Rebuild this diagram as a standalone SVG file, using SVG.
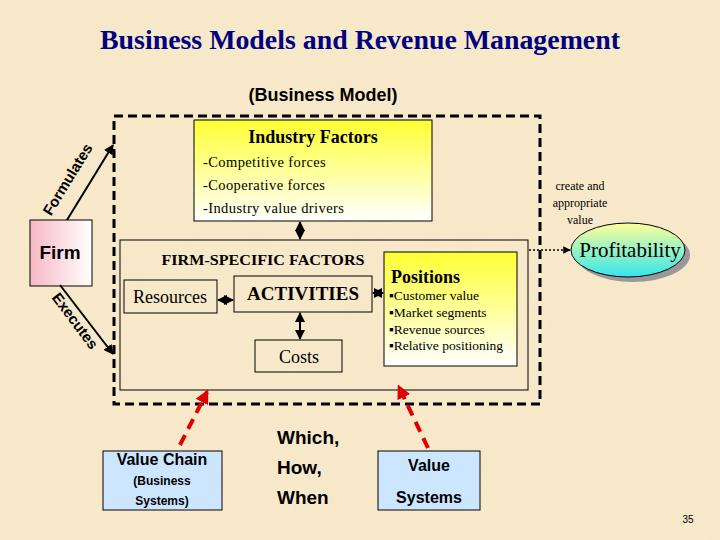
<svg xmlns="http://www.w3.org/2000/svg" width="720" height="540" viewBox="0 0 720 540">
<defs>
<style>
.t{font-family:"Liberation Serif","Times New Roman",serif;fill:#000}
.a{font-family:"Liberation Sans",Arial,sans-serif;font-weight:bold;fill:#000}
.box{stroke:#000;stroke-width:1}
.ln{stroke:#000;stroke-width:2;fill:none}
.red{stroke:#e00000;stroke-width:4;fill:none;stroke-dasharray:11 7}
</style>
<filter id="tex" x="0" y="0" width="100%" height="100%">
<feTurbulence type="fractalNoise" baseFrequency="0.04" numOctaves="3" seed="3"/>
<feColorMatrix values="0 0 0 0 0.85  0 0 0 0 0.72  0 0 0 0 0.5  0 0 0 0.55 -0.15"/>
</filter>
<linearGradient id="yel" x1="0" y1="0" x2="0" y2="1"><stop offset="0" stop-color="#ffff33"/><stop offset="1" stop-color="#ffffff"/></linearGradient>
<linearGradient id="pink" x1="0" y1="0" x2="1" y2="0"><stop offset="0" stop-color="#f7b8c4"/><stop offset="1" stop-color="#ffffff"/></linearGradient>
<linearGradient id="prof" x1="0" y1="0" x2="0" y2="1"><stop offset="0" stop-color="#ffff99"/><stop offset="1" stop-color="#33e6ee"/></linearGradient>
<marker id="ah" viewBox="0 0 10 10" refX="9" refY="5" markerWidth="5" markerHeight="5" orient="auto-start-reverse"><path d="M0,0 L10,5 L0,10 z" fill="#000"/></marker>
<marker id="ahr" viewBox="0 0 10 10" refX="8" refY="5" markerWidth="3.5" markerHeight="3.5" orient="auto"><path d="M0,0 L10,5 L0,10 z" fill="#e00000"/></marker>
</defs>
<rect width="720" height="540" fill="#f8e9cb"/>
<rect width="720" height="540" filter="url(#tex)" opacity="0.35"/>

<text x="360" y="49" text-anchor="middle" class="t" font-size="28" font-weight="bold" style="fill:#000080" textLength="520" lengthAdjust="spacingAndGlyphs">Business Models and Revenue Management</text>
<text x="323" y="101" text-anchor="middle" class="a" font-size="18">(Business Model)</text>

<g id="outer">
<rect x="114" y="116" width="426" height="288" fill="none" stroke="#000" stroke-width="3" stroke-dasharray="9 5"/>
</g>
<g id="inner">
<rect x="120" y="240" width="408" height="150" fill="none" class="box"/>
<text x="263" y="265" text-anchor="middle" class="t" font-size="15" font-weight="bold" textLength="203" lengthAdjust="spacingAndGlyphs">FIRM-SPECIFIC FACTORS</text>
</g>

<g id="industry">
<rect x="194" y="120" width="238" height="101" fill="url(#yel)" class="box"/>
<text x="313" y="143" text-anchor="middle" class="t" font-size="18" font-weight="bold">Industry Factors</text>
<text x="203" y="167" class="t" font-size="14.5" letter-spacing="0.4">-Competitive forces</text>
<text x="203" y="190" class="t" font-size="14.5" letter-spacing="0.4">-Cooperative forces</text>
<text x="203" y="213" class="t" font-size="14.5" letter-spacing="0.4">-Industry value drivers</text>
</g>

<g id="resources">
<rect x="124" y="280" width="93" height="33" fill="none" class="box"/>
<text x="170" y="303" text-anchor="middle" class="t" font-size="18">Resources</text>
</g>
<g id="activities">
<rect x="234" y="276" width="138" height="36" fill="none" class="box"/>
<text x="303" y="300" text-anchor="middle" class="t" font-size="19" font-weight="bold">ACTIVITIES</text>
</g>
<g id="costs">
<rect x="255" y="340" width="87" height="32" fill="none" class="box"/>
<text x="299" y="363" text-anchor="middle" class="t" font-size="18">Costs</text>
</g>
<g id="positions">
<rect x="384" y="252" width="133" height="114" fill="url(#yel)" class="box"/>
<text x="391" y="283" class="t" font-size="18" font-weight="bold">Positions</text>
<text x="389" y="300" class="t" font-size="13.5">▪Customer value</text>
<text x="389" y="317" class="t" font-size="13.5">▪Market segments</text>
<text x="389" y="334" class="t" font-size="13.5">▪Revenue sources</text>
<text x="389" y="350" class="t" font-size="13.5">▪Relative positioning</text>
</g>

<g id="firm">
<rect x="30" y="220" width="62" height="66" fill="url(#pink)" class="box"/>
<text x="60" y="259" text-anchor="middle" class="a" font-size="19">Firm</text>
</g>

<g id="profitability">
<ellipse cx="633" cy="255" rx="57" ry="27" fill="#999"/>
<ellipse cx="628" cy="250" rx="57" ry="27" fill="url(#prof)" class="box"/>
<text x="630" y="257" text-anchor="middle" class="t" font-size="21">Profitability</text>
</g>
<text x="580" y="190" text-anchor="middle" class="t" font-size="12">create and</text>
<text x="580" y="207" text-anchor="middle" class="t" font-size="12">appropriate</text>
<text x="580" y="224" text-anchor="middle" class="t" font-size="12">value</text>

<g id="valuechain">
<rect x="103" y="451" width="119" height="59" fill="#cce6ff" class="box"/>
<text x="162" y="465" text-anchor="middle" class="a" font-size="16">Value Chain</text>
<text x="162" y="485" text-anchor="middle" class="a" font-size="12">(Business</text>
<text x="162" y="505" text-anchor="middle" class="a" font-size="12">Systems)</text>
</g>
<g id="valuesystems">
<rect x="378" y="451" width="102" height="59" fill="#cce6ff" class="box"/>
<text x="429" y="471" text-anchor="middle" class="a" font-size="16">Value</text>
<text x="429" y="503" text-anchor="middle" class="a" font-size="16">Systems</text>
</g>
<g id="whichhow">
<text x="277" y="444" class="a" font-size="19">Which,</text>
<text x="277" y="474" class="a" font-size="19">How,</text>
<text x="277" y="504" class="a" font-size="19">When</text>
</g>
<text x="688" y="523" text-anchor="middle" font-family="Liberation Sans,Arial,sans-serif" font-size="10">35</text>

<g id="connectors">
<line x1="67" y1="220" x2="113" y2="145" class="ln" marker-end="url(#ah)"/>
<line x1="60" y1="285" x2="113" y2="354" class="ln" marker-end="url(#ah)"/>
<line x1="300" y1="222" x2="300" y2="239" class="ln" stroke-width="2.5" marker-start="url(#ah)" marker-end="url(#ah)"/>
<line x1="218" y1="300" x2="233" y2="300" class="ln" stroke-width="2.5" marker-start="url(#ah)" marker-end="url(#ah)"/>
<line x1="373" y1="293" x2="383" y2="293" class="ln" stroke-width="2.5" marker-start="url(#ah)" marker-end="url(#ah)"/>
<line x1="300" y1="313" x2="300" y2="339" class="ln" stroke-width="2.5" marker-start="url(#ah)" marker-end="url(#ah)"/>
<line x1="529" y1="250" x2="570" y2="250" stroke="#000" stroke-width="1.5" stroke-dasharray="2 2" marker-end="url(#ah)"/>
<line x1="180" y1="445" x2="207" y2="392" class="red" marker-end="url(#ahr)"/>
<line x1="428" y1="448" x2="399" y2="387" class="red" marker-end="url(#ahr)"/>
<text transform="translate(72,182) rotate(-58.5)" text-anchor="middle" class="a" font-size="15">Formulates</text>
<text transform="translate(71,324) rotate(53)" text-anchor="middle" class="a" font-size="15">Executes</text>
</g>
</svg>
